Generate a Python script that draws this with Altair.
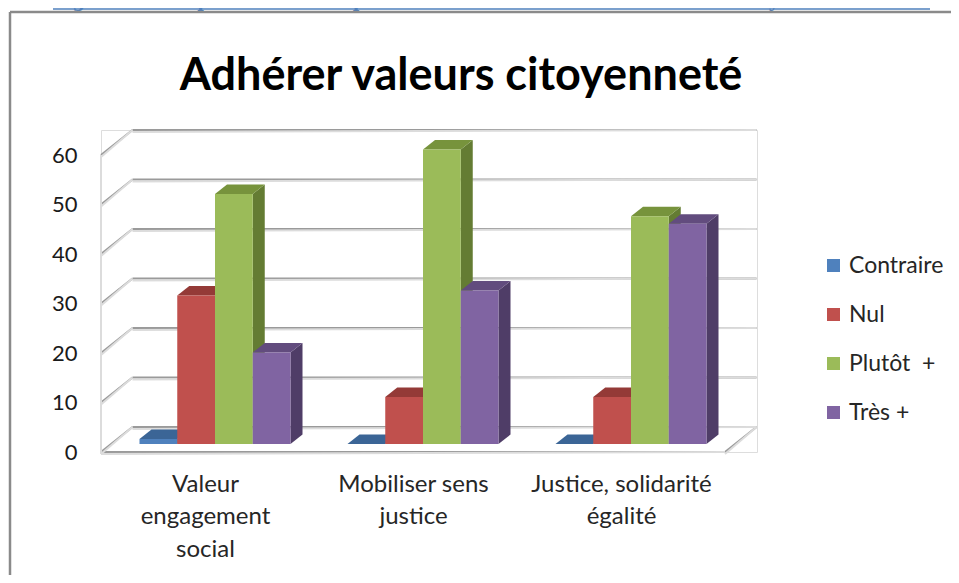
import json
import altair as alt
import pandas as pd

# ---------------- data ----------------
caption = "Figure 16 : Impact sur la compétence : « adhérer aux valeurs de la citoyenneté »."
title = "Adhérer valeurs citoyenneté"
categories = ["Valeur engagement social", "Mobiliser sens justice", "Justice, solidarité égalité"]
category_lines = [["Valeur", "engagement", "social"], ["Mobiliser sens", "justice"], ["Justice, solidarité", "égalité"]]
series = ["Contraire", "Nul", "Plutôt\u00a0 +", "Très +"]
contraire = [1, 0, 0]
nul = [30, 9.5, 9.5]
plutot = [50.5, 59.5, 46]
tres = [18.5, 31, 44.5]
y_ticks = [0, 10, 20, 30, 40, 50, 60]

front_colors = ["#4F81BD", "#C0504D", "#9BBB59", "#8064A2"]
top_colors = ["#3B6596", "#943A37", "#77933C", "#624C7E"]
side_colors = ["#2F5079", "#7A2F2D", "#647C33", "#4F3D67"]

# ---------------- geometry (pixels -> data units) ----------------
PLOT_W, PLOT_H = 656, 322
PX_X = 208.0          # px per category band (front plane)
PX_Y = 4.95           # px per value unit
X_MAX = PLOT_W / PX_X
Y_MAX = PLOT_H / PX_Y
WALL_DX, WALL_DY = 31.5 / PX_X, 25 / PX_Y
BAR_W = 37.75 / PX_X
BAR_X0, BAR_Y0 = 10 / PX_X, 8 / PX_Y
BAR_DX, BAR_DY = 12 / PX_X, 9.5 / PX_Y
n_cat = len(categories)

values = [contraire, nul, plutot, tres]

front_rows, top_rows, side_rows = [], [], []
for g in range(n_cat):
    for j, s in enumerate(series):
        v = values[j][g]
        L = g + 0.5 - 2 * BAR_W + j * BAR_W + BAR_X0
        R = L + BAR_W
        b = BAR_Y0
        front_rows.append(dict(x=L, x2=R, y=b, y2=b + v, series=s))
        tid = f"t{g}{j}"
        for xx, lo, hi in [(L, b + v, b + v), (L + BAR_DX, b + v, b + v + BAR_DY),
                           (R, b + v, b + v + BAR_DY), (R + BAR_DX, b + v + BAR_DY, b + v + BAR_DY)]:
            top_rows.append(dict(x=xx, y=lo, y2=hi, id=tid, fill=top_colors[j]))
        sid = f"s{g}{j}"
        for xx, lo, hi in [(R, b, b + v), (R + BAR_DX, b + BAR_DY, b + v + BAR_DY)]:
            side_rows.append(dict(x=xx, y=lo, y2=hi, id=sid, fill=side_colors[j]))

line_rows = []
for t in y_ticks:
    line_rows.append(dict(x=WALL_DX, x2=n_cat + WALL_DX, y=t + WALL_DY, y2=t + WALL_DY))
    line_rows.append(dict(x=0, x2=WALL_DX, y=t, y2=t + WALL_DY))
line_rows.append(dict(x=0, x2=0, y=0, y2=max(y_ticks)))
line_rows.append(dict(x=0, x2=n_cat, y=0, y2=0))
line_rows.append(dict(x=n_cat, x2=n_cat + WALL_DX, y=0, y2=WALL_DY))

front_df = pd.DataFrame(front_rows)
top_df = pd.DataFrame(top_rows)
side_df = pd.DataFrame(side_rows)
line_df = pd.DataFrame(line_rows)

FONT = "Lato"
label_expr = json.dumps(category_lines, ensure_ascii=False) + "[floor(datum.value)]"

xscale = alt.Scale(domain=[0, X_MAX], nice=False, zero=False)
yscale = alt.Scale(domain=[0, Y_MAX], nice=False, zero=False)

x_axis = alt.Axis(values=[i + 0.5 for i in range(n_cat)], labelExpr=label_expr, domain=False,
                  ticks=False, grid=False, labelFontSize=24, labelLineHeight=32.5, labelFont=FONT,
                  labelColor="#262626", labelPadding=20, labelBaseline="top", labelOverlap=False,
                  labelFlush=False, labelLimit=400, title=None)
y_axis = alt.Axis(values=y_ticks, domain=False, ticks=False, grid=False, labelFontSize=22,
                  labelFont=FONT, labelColor="#1a1a1a", labelPadding=24, labelOverlap=False,
                  labelFlush=False, title=None)

lines = alt.Chart(line_df).mark_rule(color="#9a9a9a", strokeWidth=2).encode(
    x=alt.X("x:Q", scale=xscale, axis=x_axis),
    x2="x2:Q",
    y=alt.Y("y:Q", scale=yscale, axis=y_axis),
    y2="y2:Q",
)
lines_shadow = alt.Chart(line_df).mark_rule(color="#dcdcdc", strokeWidth=2, yOffset=2).encode(
    x=alt.X("x:Q", scale=xscale), x2="x2:Q", y=alt.Y("y:Q", scale=yscale), y2="y2:Q",
)

sides = alt.Chart(side_df).mark_area(orient="vertical", interpolate="linear").encode(
    x=alt.X("x:Q", scale=xscale), y=alt.Y("y:Q", scale=yscale), y2="y2:Q",
    detail="id:N", fill=alt.Fill("fill:N", scale=None),
)
tops = alt.Chart(top_df).mark_area(orient="vertical", interpolate="linear").encode(
    x=alt.X("x:Q", scale=xscale), y=alt.Y("y:Q", scale=yscale), y2="y2:Q",
    detail="id:N", fill=alt.Fill("fill:N", scale=None),
)
fronts = alt.Chart(front_df).mark_rect().encode(
    x=alt.X("x:Q", scale=xscale), x2="x2:Q",
    y=alt.Y("y:Q", scale=yscale), y2="y2:Q",
    color=alt.Color("series:N", scale=alt.Scale(domain=series, range=front_colors),
                    legend=alt.Legend(orient="none", legendX=721, legendY=124, title=None,
                                      symbolType="square", symbolSize=170, symbolStrokeWidth=0,
                                      labelFontSize=23, labelFont=FONT, labelColor="#262626",
                                      rowPadding=25, labelOffset=4)),
)

# title, decorative frame and cut-off caption
title_df = pd.DataFrame({"text": [title]})
title_text = alt.Chart(title_df).mark_text(
    font=FONT, fontWeight="bold", fontSize=45, color="#000000", align="center",
    baseline="alphabetic").encode(x=alt.value(360), y=alt.value(-40), text="text:N")

cap_df = pd.DataFrame({"text": [caption]})
caption_text = alt.Chart(cap_df).mark_text(
    font="DejaVu Serif", fontWeight="bold", fontSize=18, color="#4F81BD", align="left",
    baseline="alphabetic").encode(x=alt.value(-48), y=alt.value(-123), text="text:N")
caption_line = alt.Chart(cap_df).mark_rule(color="#4F81BD", strokeWidth=1.5).encode(
    x=alt.value(-48), x2=alt.value(829), y=alt.value(-121))
frame_top = alt.Chart(cap_df).mark_rule(color="#8a8a8a", strokeWidth=2.5).encode(
    x=alt.value(-91), x2=alt.value(PLOT_W + 200), y=alt.value(-118))
frame_left = alt.Chart(cap_df).mark_rule(color="#8a8a8a", strokeWidth=2.5).encode(
    x=alt.value(-91), y=alt.value(-118), y2=alt.value(PLOT_H + 130))

chart = alt.layer(
    lines, lines_shadow, sides, tops, fronts, title_text, caption_text, caption_line,
    frame_top, frame_left
).properties(
    width=PLOT_W, height=PLOT_H,
    autosize=alt.AutoSizeParams(type="none"),
    padding={"left": 93, "top": 122, "right": 194, "bottom": 123},
).configure_view(stroke=None).configure(background="white")

chart.save("out.html", embed_options={"renderer": "svg", "actions": False})
